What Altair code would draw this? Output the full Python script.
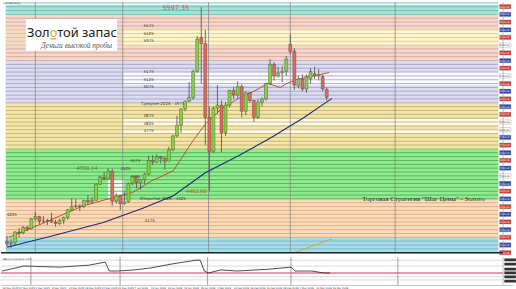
import altair as alt
import pandas as pd

# ---------------- data ----------------
opens = [4075,4060,4065,4135,4130,4165,4155,4220,4235,4205,
         4205,4210,4200,4190,4210,4230,4280,4300,4305,4300,
         4340,4330,4340,4445,4490,4480,4530,4335,4370,4320,
         4330,4450,4495,4455,4475,4510,4600,4590,4625,4615,
         4595,4670,4760,4830,4935,4985,5010,5180,5400,5360,
         4880,4660,4940,4960,4780,4960,5055,5025,5080,4920,
         5040,4990,4880,4980,5000,5100,5225,5150,5170,5180,
         5355,5310,5085,5130,5065,5130,5165,5150,5145,5062]
highs = [4110,4090,4140,4160,4175,4175,4225,4265,4240,4240,
         4220,4260,4215,4220,4235,4285,4355,4350,4315,4345,
         4375,4360,4450,4500,4525,4550,4545,4385,4375,4400,
         4455,4500,4500,4480,4520,4630,4635,4640,4630,4620,
         4690,4765,4890,4940,4990,5110,5190,5410,5597.35,5450,
         4950,4950,5090,4990,4980,5060,5080,5115,5095,5050,
         5045,4995,5000,5010,5105,5260,5240,5210,5215,5280,
         5420,5330,5150,5160,5160,5200,5210,5195,5160,5075]
lows = [4040,4030,4045,4100,4120,4140,4150,4210,4185,4195,
        4180,4195,4170,4180,4185,4215,4270,4290,4270,4290,
        4310,4315,4340,4440,4470,4475,4305,4320,4275,4310,
        4325,4440,4420,4410,4450,4505,4570,4585,4580,4540,
        4595,4660,4750,4780,4920,4980,4995,5170,5100,4700,
        4402.6,4650,4905,4655,4760,4945,5000,5005,4880,4895,
        4975,4850,4870,4950,4990,5090,5120,5140,5110,5150,
        5290,5060,5070,5050,5040,5100,5130,5120,5050,4990]
closes = [4060,4065,4135,4130,4165,4155,4220,4235,4205,4205,
          4210,4200,4190,4210,4230,4280,4300,4305,4300,4340,
          4330,4340,4445,4490,4480,4530,4335,4370,4320,4330,
          4450,4495,4455,4475,4510,4600,4590,4625,4615,4595,
          4670,4760,4830,4935,4985,5010,5180,5390,5360,4880,
          4660,4940,4960,4780,4960,5055,5025,5080,4920,5040,
          4990,4880,4980,5000,5100,5225,5150,5170,5180,5260,
          5310,5090,5130,5065,5145,5178,5150,5160,5065,5010]

fast_ma_idx = [0.5, 9.4, 19, 26.2, 31, 35.8, 41.1, 45.9, 49, 53.1, 57.2, 61, 64.4, 67.5, 69.2, 71.6, 79.6]
fast_ma_val = [4100, 4197, 4307, 4358, 4391, 4468, 4533, 4726, 4836, 4939, 5004, 5049, 5101, 5075, 5101, 5127, 5172]
slow_ma_idx = [0, 11.8, 23.8, 33.4, 41.1, 49, 57.2, 65.1, 73.1, 80.3]
slow_ma_val = [4036, 4113, 4197, 4287, 4371, 4520, 4630, 4746, 4875, 5004]

trend_idx = [70.7, 80.3]
trend_val = [3998, 4090]

band_lo = [5550, 5250, 5350, 4975, 5090, 4675, 4825, 4775, 4350, 4340, 4100, 3990]
band_hi = [5612, 5550, 5450, 5250, 5175, 4975, 4870, 4805, 4675, 4480, 4350, 4100]
band_from = [-0.3, -0.3, 28.8, -0.3, 28.8, -0.3, 28.8, 28.8, -0.3, 25.0, -0.3, -0.3]
band_to = [121.4, 121.4, 121.4, 121.4, 121.4, 121.4, 121.4, 121.4, 121.4, 28.8, 121.4, 121.4]
band_fill = ["#a6e3da", "#f5d8cd", "#fcf7d2", "#dcdcf0", "#fbfbfb", "#f2e6ae",
             "#fbfbf3", "#fbfbf3", "#92ea92", "#fbfbfb", "#f9dcbb", "#a9dce7"]

level_prices = list(range(4025, 5626, 25))

separator_idx = [7, 28.6, 49.8, 70, 95.9]

level_text = ["5475", "5425", "5375", "5175", "5125", "5075", "Среднее 2026 - 4975",
              "4875", "4825", "4775", "4575", "4525", "4475", "Открытие 2026 - 4325",
              "4175", "4225"]
level_text_idx = [35, 35, 35, 35, 35, 35, 38.5, 35, 35, 35, 31.7, 29.3, 31.7, 38.5, 35.3, 1.2]
level_text_val = [5475, 5425, 5375, 5175, 5125, 5075, 4965, 4888, 4836, 4791, 4597, 4546, 4494, 4352, 4204, 4242]

tag_prices = list(range(5600, 3999, -50))
tag_white = [5350, 5150, 4850, 4800, 4500]

ind_idx = [0, 5.3, 14, 21, 25, 26, 28, 32, 36, 41, 47, 48, 49, 50, 53, 57, 65, 70, 71, 75, 78, 79.5]
ind_val = [50, 68, 64, 71, 82, 50, 50, 54, 61, 75, 89, 89, 50, 43, 54, 50, 57, 64, 50, 50, 43, 43]
ind_grid = [89, 68, 29, 18]
ind_level = 43
ind_tags = [90, 75, 57, 43, 29, 14]

date_idx = list(range(0, 81, 4))
date_labels = ["18 Nov 2025", "24 Nov 2025", "2 Dec 2025", "8 Dec 2025", "12 Dec 2025",
               "18 Dec 2025", "24 Dec 2025", "31 Dec 2025", "7 Jan 2026", "13 Jan 2026",
               "19 Jan 2026", "23 Jan 2026", "29 Jan 2026", "4 Feb 2026", "10 Feb 2026",
               "16 Feb 2026", "20 Feb 2026", "26 Feb 2026", "4 Mar 2026", "10 Mar 2026",
               "16 Mar 2026"]

# ---------------- frames ----------------
X_DOM = [-0.25, 123.8]
Y_DOM = [3997, 5630]
W = 516
MAIN_H = 253
IND_H = 28

candles = pd.DataFrame({"i": list(range(len(opens))), "open": opens, "high": highs,
                        "low": lows, "close": closes})
bands = pd.DataFrame({"lo": band_lo, "hi": band_hi, "x0": band_from, "x1": band_to, "fill": band_fill})


def line_color(p):
    if p >= 5550:
        return "#5cbab0"
    if 5350 <= p <= 5450:
        return "#d8c27e"
    if p >= 5250:
        return "#d39c8c"
    if p >= 4975:
        return "#9c9cc6"
    if p >= 4675:
        return "#c4a850"
    if p >= 4350:
        return "#3fae3f"
    if p >= 4100:
        return "#e2a070"
    return "#66b2c8"


levels = pd.DataFrame({"p": level_prices, "x0": -0.3, "x1": 121.4,
                       "c": [line_color(p) for p in level_prices]})
seps = pd.DataFrame({"i": separator_idx})
fast = pd.DataFrame({"i": fast_ma_idx, "v": fast_ma_val})
slow = pd.DataFrame({"i": slow_ma_idx, "v": slow_ma_val})
trend = pd.DataFrame({"i": trend_idx, "v": trend_val})
ltext = pd.DataFrame({"t": level_text, "i": level_text_idx, "v": level_text_val})
tags = pd.DataFrame({"p": tag_prices,
                     "lo": [p - 14 for p in tag_prices], "hi": [p + 14 for p in tag_prices],
                     "x0": 121.7, "x1": 124.5,
                     "c": ["#ffffff" if p in tag_white else ("#d23a35" if k % 2 == 0 else "#2f45ad")
                           for k, p in enumerate(tag_prices)],
                     "tc": ["#333333" if p in tag_white else "#ffffff" for p in tag_prices],
                     "t": [f"{p:.2f}" for p in tag_prices]})

xs = alt.Scale(domain=X_DOM, nice=False, zero=False)
ys = alt.Scale(domain=Y_DOM, nice=False, zero=False)
X = lambda f: alt.X(f, scale=xs, axis=None)
Y = lambda f: alt.Y(f, scale=ys, axis=None)

band_layer = alt.Chart(bands).mark_rect(clip=True).encode(
    x=X("x0:Q"), x2="x1:Q", y=Y("lo:Q"), y2="hi:Q", color=alt.Color("fill:N", scale=None))
level_layer = alt.Chart(levels).mark_rule(strokeWidth=0.8, clip=True).encode(
    x=X("x0:Q"), x2="x1:Q", y=Y("p:Q"), color=alt.Color("c:N", scale=None))
sep_layer = alt.Chart(seps).mark_rule(color="#8a8a8a", strokeWidth=0.8).encode(x=X("i:Q"))
ltext_layer = alt.Chart(ltext).mark_text(fontSize=4, font="DejaVu Sans", color="#333333",
                                         align="center", baseline="middle").encode(
    x=X("i:Q"), y=Y("v:Q"), text="t:N")
slow_layer = alt.Chart(slow).mark_line(color="#1c2a80", strokeWidth=1.1, clip=True).encode(
    x=X("i:Q"), y=Y("v:Q"))
fast_layer = alt.Chart(fast).mark_line(color="#b3402a", strokeWidth=0.9, clip=True).encode(
    x=X("i:Q"), y=Y("v:Q"))
trend_layer = alt.Chart(trend).mark_line(color="#d6a531", strokeWidth=1, clip=True).encode(
    x=X("i:Q"), y=Y("v:Q"))
wick_layer = alt.Chart(candles).mark_rule(strokeWidth=0.8, color="#4a4a4a").encode(
    x=X("i:Q"), y=Y("low:Q"), y2="high:Q")
body_layer = alt.Chart(candles).mark_bar(size=3, stroke="#3a3a3a", strokeWidth=0.4).encode(
    x=X("i:Q"), y=Y("open:Q"), y2="close:Q",
    color=alt.condition("datum.close >= datum.open", alt.value("#86d63a"), alt.value("#e5685a")))

ann = pd.DataFrame({"t": ["5597.35", "4402.60", "4550.14"],
                    "i": [45.0, 44.2, 17.1], "v": [5590, 4404, 4552],
                    "c": ["#d94a4a", "#b8602a", "#3f7f30"],
                    "a": ["right", "left", "left"]})
ann_r = alt.Chart(ann[ann.a == "right"]).mark_text(fontSize=6.5, font="DejaVu Sans", align="right",
                                                    baseline="middle").encode(
    x=X("i:Q"), y=Y("v:Q"), text="t:N", color=alt.Color("c:N", scale=None))
ann_l = alt.Chart(ann[ann.a == "left"]).mark_text(fontSize=6.5, font="Liberation Serif", align="left",
                                                   baseline="middle").encode(
    x=X("i:Q"), y=Y("v:Q"), text="t:N", color=alt.Color("c:N", scale=None))

title_df = pd.DataFrame({"t": ['Торговая Стратегия "Шаг Цены" - Золото'], "i": [102.9], "v": [4346]})
title_layer = alt.Chart(title_df).mark_text(fontSize=7, font="Liberation Serif", color="#2a2a2a",
                                            align="center", baseline="middle").encode(
    x=X("i:Q"), y=Y("v:Q"), text="t:N")

tag_rect = alt.Chart(tags).mark_rect(stroke="#777777", strokeWidth=0.3).encode(
    x=X("x0:Q"), x2="x1:Q", y=Y("lo:Q"), y2="hi:Q", color=alt.Color("c:N", scale=None))
tag_text = alt.Chart(tags).mark_text(fontSize=2.4, font="DejaVu Sans", align="center",
                                     baseline="middle").encode(
    x=alt.X("x0:Q", scale=xs, axis=None), y=Y("p:Q"), text="t:N",
    color=alt.Color("tc:N", scale=None), xOffset=alt.value(5))

one = pd.DataFrame({"k": [0]})
logo_box = alt.Chart(one).mark_rect(color="white").encode(
    x=alt.value(25), x2=alt.value(117), y=alt.value(17), y2=alt.value(49))
logo_a = alt.Chart(one).mark_text(text="Зол", fontSize=13, font="Noto Sans", color="#1a1a1a",
                                  align="right", baseline="alphabetic").encode(
    x=alt.value(49), y=alt.value(35))
logo_o = alt.Chart(one).mark_text(text="о", fontSize=13, font="Noto Sans", color="#e5a21a",
                                  align="left", baseline="alphabetic").encode(
    x=alt.value(49.2), y=alt.value(35))
logo_b = alt.Chart(one).mark_text(text="той запас", fontSize=13, font="Noto Sans", color="#1a1a1a",
                                  align="left", baseline="alphabetic").encode(
    x=alt.value(56.6), y=alt.value(35))
logo_bar = alt.Chart(one).mark_rule(color="#e5a21a", strokeWidth=1.3).encode(
    x=alt.value(49.8), x2=alt.value(56), y=alt.value(37))
logo_s = alt.Chart(one).mark_text(text="Деньги высокой пробы", fontSize=7.5, font="Liberation Serif",
                                  fontStyle="italic", color="#555555", align="right",
                                  baseline="alphabetic").encode(x=alt.value(112), y=alt.value(46.5))
head = alt.Chart(one).mark_text(text="XAUUSD,Daily", fontSize=2.5, font="DejaVu Sans", color="#333",
                                align="left", baseline="top").encode(x=alt.value(2), y=alt.value(0.3))
bottom_line = alt.Chart(one).mark_rule(color="#222222", strokeWidth=1.3).encode(
    x=alt.value(0), x2=alt.value(506), y=alt.value(252.6))
right_border = alt.Chart(one).mark_rule(color="#999999", strokeWidth=0.6).encode(
    x=alt.value(506), y=alt.value(0), y2=alt.value(253))

main = alt.layer(band_layer, level_layer, sep_layer, ltext_layer, trend_layer, slow_layer, fast_layer,
                 wick_layer, body_layer, ann_r, ann_l, title_layer, tag_rect, tag_text,
                 logo_box, logo_a, logo_o, logo_b, logo_bar, logo_s, head, bottom_line,
                 right_border).properties(width=W, height=MAIN_H)

# ---------------- indicator ----------------
iys = alt.Scale(domain=[0, 100], nice=False, zero=False)
date_expr = "[" + ",".join("'" + d + "'" for d in date_labels) + "][round(datum.value/4)]"
date_axis = alt.Axis(values=date_idx, labelExpr=date_expr, labelFontSize=2.5,
                     labelFont="DejaVu Sans", labelColor="#333333",
                     labelAlign="left", labelBaseline="top",
                     ticks=False, grid=False, domain=True,
                     domainColor="#999999", domainWidth=0.6,
                     labelPadding=1.5, labelOverlap=False,
                     labelBound=False, labelFlush=False, title=None)
IX = lambda f: alt.X(f, scale=xs, axis=date_axis)
IY = lambda f: alt.Y(f, scale=iys, axis=None)

ind_line_df = pd.DataFrame({"i": ind_idx, "v": ind_val})
grid_df = pd.DataFrame({"v": ind_grid, "x0": -0.3, "x1": 121.4})
lev_df = pd.DataFrame({"v": [ind_level], "x0": -0.3, "x1": 121.4})
itag_df = pd.DataFrame({"v": ind_tags, "lo": [v - 5 for v in ind_tags], "hi": [v + 5 for v in ind_tags],
                        "x0": 121.7, "x1": 124.5})

ind_grid_layer = alt.Chart(grid_df).mark_rule(color="#cfcfcf", strokeWidth=0.8).encode(
    x=IX("x0:Q"), x2="x1:Q", y=IY("v:Q"))
ind_lev_layer = alt.Chart(lev_df).mark_rule(color="#e2798a", strokeWidth=1.4).encode(
    x=IX("x0:Q"), x2="x1:Q", y=IY("v:Q"))
ind_sep = alt.Chart(seps).mark_rule(color="#8a8a8a", strokeWidth=0.8).encode(
    x=IX("i:Q"))
ind_line = alt.Chart(ind_line_df).mark_line(color="#222222", strokeWidth=0.8).encode(
    x=IX("i:Q"), y=IY("v:Q"))
ind_tags_layer = alt.Chart(itag_df).mark_rect(color="#333333").encode(
    x=IX("x0:Q"), x2="x1:Q", y=IY("lo:Q"), y2="hi:Q")
ind_label = alt.Chart(one).mark_text(text="BB(12,0,100,60,0.707)", fontSize=2.5, font="DejaVu Sans",
                                     color="#333333", align="left", baseline="top").encode(
    x=alt.value(2), y=alt.value(1))
ind_border = alt.Chart(one).mark_rule(color="#999999", strokeWidth=0.6).encode(
    x=alt.value(506), y=alt.value(0), y2=alt.value(IND_H))

ind = alt.layer(ind_grid_layer, ind_lev_layer, ind_sep, ind_line, ind_tags_layer, ind_label,
                ind_border).properties(width=W, height=IND_H)

chart = alt.vconcat(main, ind, spacing=1, padding=0, background="white").configure_view(stroke=None)

chart.save("out.html", embed_options={"renderer": "svg", "actions": False})
